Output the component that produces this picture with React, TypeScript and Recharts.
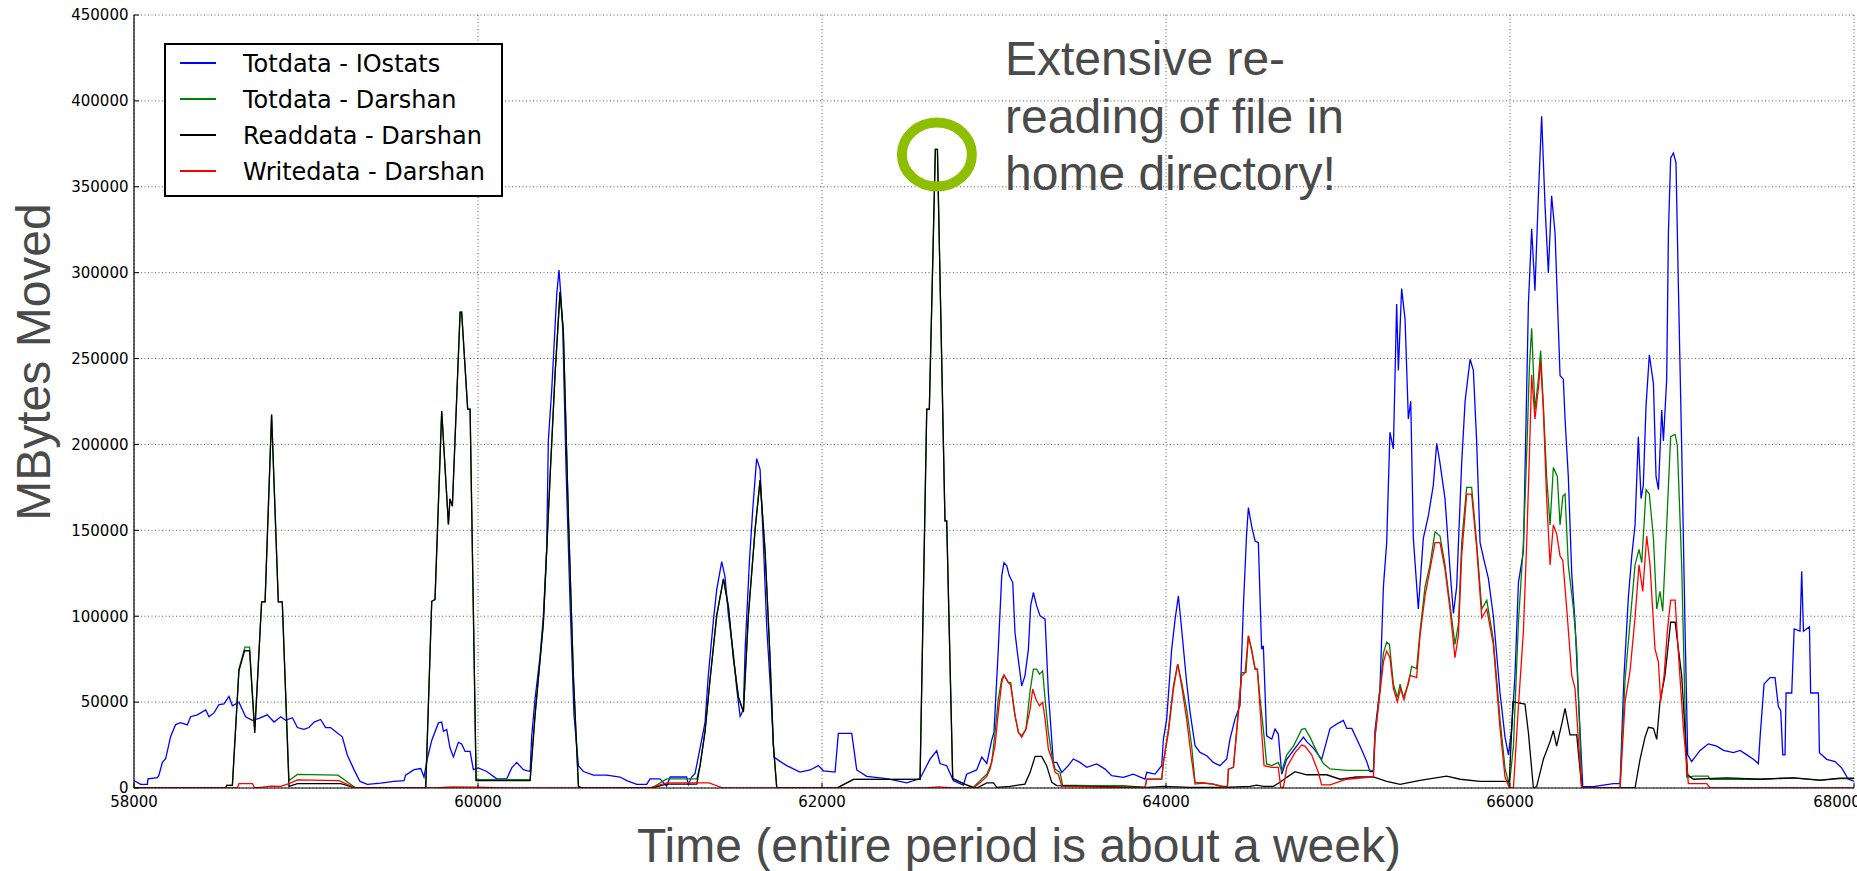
import React from 'react';
import { LineChart, Line, XAxis, YAxis, CartesianGrid, Legend, ReferenceDot } from 'recharts';

type Pt = [number, number];

const xTicks = [58000, 60000, 62000, 64000, 66000, 68000];
const yTicks = [0, 50000, 100000, 150000, 200000, 250000, 300000, 350000, 400000, 450000];

// [time, MBytes] samples per series
const iostatsTotal: Pt[] = [
    [58000, 4300], [58039, 2100], [58078, 2100], [58081, 5300], [58136, 6000], [58145, 7500], [58165, 15000],
    [58184, 17000], [58213, 30000], [58242, 36900], [58271, 38000], [58310, 36700], [58329, 41500], [58368, 42600],
    [58417, 45400], [58436, 41500], [58465, 43700], [58494, 48600], [58523, 49000], [58552, 53300], [58572, 47900],
    [58610, 50000], [58649, 41500], [58688, 39400], [58727, 40500], [58775, 42600], [58814, 38400], [58853, 41500],
    [58882, 39400], [58921, 40900], [58950, 35200], [58988, 34100], [59017, 35200], [59047, 38400], [59085, 39900],
    [59114, 35200], [59143, 35200], [59182, 32000], [59211, 29800], [59240, 19200], [59279, 10700], [59314, 3800],
    [59357, 2100], [59434, 2800], [59512, 3800], [59570, 4300], [59579, 7500], [59628, 10700], [59667, 11300],
    [59686, 6400], [59705, 17000], [59731, 27700], [59770, 37900], [59789, 38400], [59799, 33000], [59818, 34100],
    [59837, 23400], [59857, 18100], [59886, 26600], [59905, 25600], [59925, 21300], [59954, 21300], [59973, 10700],
    [60002, 11700], [60051, 9600], [60109, 5300], [60167, 5300], [60196, 11700], [60225, 14900], [60264, 10700],
    [60303, 9600], [60312, 29800], [60332, 52200], [60361, 76700], [60380, 100000], [60399, 138500], [60409, 202400],
    [60429, 232300], [60458, 287700], [60471, 301500], [60481, 287700], [60493, 266400], [60512, 185400],
    [60535, 108700], [60558, 42600], [60584, 12800], [60613, 9600], [60671, 7500], [60748, 7500], [60826, 6400],
    [60865, 4300], [60923, 2100], [60981, 2100], [61000, 5300], [61058, 5300], [61097, 1100], [61117, 6400],
    [61213, 6400], [61223, 2100], [61242, 6400], [61262, 8500], [61281, 18100], [61320, 38000], [61339, 65500],
    [61369, 98000], [61388, 115500], [61417, 131750], [61436, 123000], [61456, 100500], [61485, 78000],
    [61504, 58000], [61524, 41750], [61543, 45500], [61553, 80500], [61578, 131750], [61597, 161750],
    [61620, 191750], [61640, 185500], [61659, 143000], [61679, 93000], [61702, 55500], [61721, 18000],
    [61756, 15500], [61795, 13000], [61872, 9250], [61931, 10500], [61979, 13000], [62008, 10000], [62076, 9250],
    [62095, 31750], [62173, 31750], [62202, 10500], [62260, 6750], [62376, 5500], [62493, 3000], [62570, 5500],
    [62628, 16750], [62667, 21750], [62686, 14250], [62725, 13000], [62764, 4250], [62822, 1750], [62841, 8000],
    [62899, 10500], [62929, 18000], [62958, 14250], [62987, 28000], [63000, 32400], [63025, 80800], [63045, 123500],
    [63058, 131200], [63074, 129300], [63089, 123500], [63109, 119600], [63122, 90500], [63136, 78900],
    [63161, 59500], [63180, 65300], [63200, 80800], [63213, 106000], [63229, 113800], [63248, 106000],
    [63268, 100200], [63297, 98300], [63316, 55700], [63345, 14900], [63365, 14900], [63394, 9100], [63432, 13000],
    [63461, 16900], [63500, 14900], [63539, 12000], [63597, 14000], [63646, 11000], [63684, 7200], [63752, 6200],
    [63810, 8100], [63878, 5200], [63888, 9100], [63936, 8100], [63975, 13000], [63985, 28500], [64004, 40100],
    [64033, 80800], [64053, 98300], [64072, 111800], [64091, 92400], [64120, 61400], [64140, 44000],
    [64169, 24600], [64198, 20700], [64237, 18800], [64275, 14900], [64314, 13000], [64353, 16900], [64372, 28500],
    [64401, 40100], [64430, 47900], [64450, 106000], [64469, 148600], [64479, 163200], [64498, 152500],
    [64518, 143800], [64537, 142800], [64556, 80800], [64566, 82800], [64585, 30400], [64615, 28500],
    [64634, 34300], [64653, 31400], [64673, 8000], [64702, 16700], [64741, 21900], [64799, 29600], [64818, 27000],
    [64857, 23200], [64905, 16700], [64954, 34700], [65002, 37800], [65031, 39400], [65051, 34700], [65080, 34700],
    [65128, 24400], [65167, 15400], [65186, 9500], [65206, 9500], [65215, 33400], [65244, 57900], [65264, 117100],
    [65283, 142800], [65302, 207100], [65322, 197300], [65341, 281700], [65351, 243100], [65370, 290700],
    [65390, 272700], [65409, 214800], [65423, 225200], [65438, 145400], [65467, 104200], [65496, 145400],
    [65525, 158200], [65554, 176200], [65574, 200700], [65593, 189100], [65622, 168500], [65651, 127400],
    [65671, 101600], [65690, 117100], [65719, 189100], [65739, 225200], [65768, 249600], [65787, 243100],
    [65806, 202000], [65826, 142800], [65849, 132500], [65874, 122200], [65903, 100300], [65942, 55300],
    [65971, 29600], [65991, 19300], [66010, 34700], [66029, 65600], [66049, 119600], [66078, 137700],
    [66107, 281700], [66126, 325500], [66145, 289500], [66165, 344800], [66184, 391100], [66204, 338300],
    [66223, 299800], [66242, 344800], [66262, 322900], [66271, 297200], [66291, 240000], [66310, 238000],
    [66320, 214800], [66339, 181400], [66359, 124800], [66378, 96500], [66398, 52700], [66423, 800], [66485, 800],
    [66601, 2600], [66640, 2600], [66663, 65600], [66688, 110600], [66708, 135100], [66727, 153100],
    [66746, 204500], [66762, 168500], [66775, 176200], [66791, 222600], [66810, 252200], [66834, 235400],
    [66849, 181400], [66863, 173700], [66882, 220000], [66892, 202000], [66911, 238000], [66921, 322900],
    [66934, 366700], [66950, 369700], [66965, 364100], [66979, 292000], [66998, 199400], [67018, 91300],
    [67033, 19300], [67056, 15400], [67105, 21900], [67153, 25700], [67202, 24400], [67241, 21900], [67299, 20600],
    [67338, 21900], [67377, 19300], [67415, 16700], [67444, 14200], [67454, 29600], [67477, 60500], [67512, 64300],
    [67541, 64300], [67560, 47600], [67574, 45000], [67586, 19300], [67599, 19300], [67605, 55300], [67638, 55300],
    [67652, 92600], [67686, 91300], [67696, 126100], [67706, 91300], [67741, 93900], [67748, 55300],
    [67793, 55300], [67799, 20600], [67841, 16700], [67890, 15400], [67929, 11600], [67967, 5100], [68000, 4000],
];

const darshanTotal: Pt[] = [
    [58000, 0], [58533, 0], [58539, 1500], [58572, 1500], [58610, 69300], [58645, 82000], [58672, 82000],
    [58702, 33000], [58742, 108300], [58762, 108300], [58800, 217400], [58839, 108300], [58862, 108300],
    [58901, 4300], [58950, 7900], [59186, 7500], [59289, 0], [59696, 0], [59731, 108700], [59750, 109700],
    [59789, 219500], [59828, 153400], [59837, 168300], [59851, 164100], [59896, 277000], [59905, 277000],
    [59940, 220600], [59954, 220600], [59989, 4800], [60303, 4800], [60332, 42600], [60380, 95900],
    [60419, 181100], [60448, 240800], [60477, 288800], [60496, 266400], [60525, 159800], [60555, 63900],
    [60584, 1000], [60603, 0], [61010, 0], [61097, 5300], [61272, 5300], [61291, 13000], [61320, 33000],
    [61349, 63000], [61388, 100500], [61427, 121750], [61456, 105500], [61485, 75500], [61514, 53000],
    [61543, 44250], [61572, 100500], [61611, 150500], [61640, 179250], [61669, 138000], [61698, 75500],
    [61717, 25500], [61737, 0], [62086, 0], [62183, 5000], [62570, 5000], [62609, 220500], [62624, 220500],
    [62659, 371750], [62671, 371750], [62715, 155500], [62725, 155500], [62760, 5500], [62841, 1750],
    [62880, 500], [62919, 4250], [62958, 8000], [62987, 14900], [63006, 32400], [63025, 51700], [63045, 63400],
    [63058, 65700], [63084, 61400], [63097, 61400], [63122, 42200], [63142, 32400], [63161, 30400],
    [63186, 34300], [63210, 56600], [63229, 69200], [63248, 69200], [63264, 66300], [63283, 68200],
    [63297, 51700], [63316, 32400], [63336, 18800], [63355, 11000], [63384, 9100], [63399, 1700], [63558, 1400],
    [63752, 1400], [63878, 400], [63888, 5200], [63975, 5200], [63985, 14900], [64014, 34300], [64043, 59500],
    [64068, 72100], [64091, 61400], [64120, 45900], [64149, 24600], [64169, 3300], [64217, 2900], [64275, 2300],
    [64334, 1000], [64357, 1000], [64363, 11000], [64392, 12000], [64411, 34300], [64440, 67200], [64465, 67200],
    [64479, 88600], [64498, 80800], [64518, 69200], [64531, 69200], [64547, 51700], [64566, 34300],
    [64585, 14000], [64615, 13000], [64653, 14900], [64673, 10000], [64702, 19300], [64741, 24400],
    [64789, 34200], [64808, 34700], [64837, 29600], [64886, 19300], [64915, 14200], [64954, 11100],
    [65051, 10300], [65206, 10300], [65215, 29600], [65244, 57900], [65264, 78500], [65283, 84900],
    [65299, 83600], [65322, 60500], [65345, 52700], [65361, 60500], [65380, 52700], [65409, 60500],
    [65428, 70800], [65457, 69500], [65477, 91300], [65506, 117100], [65535, 129900], [65564, 149200],
    [65593, 146700], [65622, 129900], [65651, 106800], [65680, 83600], [65700, 95200], [65719, 142800],
    [65748, 175000], [65777, 175000], [65806, 142800], [65836, 104200], [65865, 109400], [65903, 86200],
    [65942, 39900], [65971, 11600], [65996, 1300], [66020, 24400], [66049, 96500], [66078, 142800],
    [66097, 194300], [66113, 245700], [66126, 267600], [66145, 220000], [66165, 238000], [66178, 254700],
    [66194, 222600], [66213, 181400], [66233, 153100], [66252, 186600], [66275, 181400], [66291, 153100],
    [66307, 169800], [66320, 171100], [66339, 129900], [66369, 104200], [66388, 81000], [66417, 0], [66640, 0],
    [66669, 63000], [66698, 96500], [66727, 129900], [66750, 138900], [66766, 131200], [66791, 173700],
    [66810, 171100], [66834, 145400], [66853, 104200], [66872, 114500], [66888, 102900], [66911, 153100],
    [66934, 204500], [66960, 205800], [66973, 199400], [66998, 129900], [67027, 6400], [67047, 6400],
    [67066, 6900], [67153, 6900], [67163, 5100], [67454, 5100], [67648, 5900], [67803, 4400], [67919, 5400],
    [68000, 5400],
];

const darshanRead: Pt[] = [
    [58000, 0], [58533, 0], [58539, 1500], [58572, 1500], [58610, 68200], [58643, 79900], [58672, 79900],
    [58702, 32000], [58742, 108300], [58762, 108300], [58800, 217400], [58839, 108300], [58862, 108300],
    [58901, 1000], [58950, 2600], [59202, 2600], [59289, 0], [59696, 0], [59731, 108700], [59750, 109700],
    [59789, 219500], [59828, 153400], [59837, 168300], [59851, 164100], [59896, 277000], [59905, 277000],
    [59940, 220600], [59954, 220600], [59989, 4300], [60303, 4300], [60332, 42600], [60380, 95900],
    [60419, 181100], [60448, 240800], [60477, 288800], [60496, 266400], [60525, 159800], [60555, 63900],
    [60584, 1000], [60603, 0], [61010, 0], [61097, 2300], [61272, 2300], [61291, 13000], [61320, 33000],
    [61349, 63000], [61388, 100500], [61427, 121750], [61456, 105500], [61485, 75500], [61514, 53000],
    [61543, 44250], [61572, 100500], [61611, 150500], [61640, 179250], [61669, 138000], [61698, 75500],
    [61717, 25500], [61737, 0], [62086, 0], [62183, 5000], [62570, 5000], [62609, 220500], [62624, 220500],
    [62659, 371750], [62671, 371750], [62715, 155500], [62725, 155500], [62760, 5500], [62841, 1750],
    [62870, 500], [62900, 0], [62958, 3000], [62997, 3000], [63016, 400], [63093, 1000], [63180, 2300],
    [63210, 9100], [63239, 18400], [63277, 18400], [63306, 13000], [63336, 3300], [63365, 1400], [63558, 1000],
    [63888, 400], [63985, 1000], [64140, 400], [64334, 400], [64489, 1000], [64527, 1700], [64566, 1000],
    [64624, 1000], [64663, 3300], [64702, 6200], [64750, 9500], [64818, 7700], [64934, 7700], [65012, 5100],
    [65109, 6400], [65206, 6400], [65283, 3900], [65361, 2100], [65477, 4400], [65632, 6900], [65710, 5100],
    [65826, 3900], [65996, 3900], [66017, 50200], [66087, 48900], [66107, 32200], [66136, 0], [66155, 800],
    [66194, 16700], [66233, 27000], [66252, 33400], [66271, 24400], [66301, 37300], [66320, 46300],
    [66349, 30900], [66388, 30900], [66417, 0], [66727, 0], [66756, 16700], [66785, 29600], [66805, 35300],
    [66834, 34700], [66853, 28300], [66872, 50200], [66901, 65600], [66934, 96500], [66960, 96500],
    [66998, 65600], [67033, 7700], [67066, 5100], [67260, 5900], [67454, 5100], [67648, 5900], [67803, 4600],
    [67919, 5700], [68000, 5700],
];

const darshanWrite: Pt[] = [
    [58000, 0], [58601, 0], [58610, 2600], [58688, 2600], [58702, 0], [58736, 400], [58795, 1100], [58853, 900],
    [58901, 2600], [58950, 4700], [59192, 4300], [59289, 0], [59750, 0], [59850, 600], [60000, 500], [60150, 0],
    [60994, 0], [61097, 3000], [61343, 3000], [61424, 0], [62600, 0], [62680, 600], [62760, 0], [62880, 0],
    [62919, 3000], [62958, 6750], [62977, 11000], [63006, 24600], [63025, 44000], [63045, 61400], [63058, 65700],
    [63084, 61400], [63097, 59900], [63122, 42200], [63142, 32400], [63161, 29500], [63186, 34300],
    [63210, 45900], [63225, 57600], [63244, 51700], [63264, 47900], [63283, 49800], [63297, 40100],
    [63316, 22700], [63336, 16900], [63355, 9100], [63374, 8100], [63394, 1000], [63878, 0], [63888, 5200],
    [63975, 5200], [63985, 14900], [64014, 32400], [64043, 57600], [64068, 72100], [64091, 59500],
    [64120, 40100], [64146, 18800], [64169, 2300], [64217, 2900], [64275, 2300], [64334, 400], [64357, 400],
    [64363, 11000], [64392, 12000], [64411, 32400], [64440, 65300], [64460, 67200], [64479, 88600],
    [64498, 79800], [64518, 69200], [64531, 69200], [64547, 45900], [64570, 13000], [64615, 12000],
    [64653, 12000], [64667, 400], [64683, 400], [64702, 12000], [64750, 20600], [64789, 25000], [64808, 24400],
    [64847, 19300], [64886, 9000], [64905, 1800], [64954, 1800], [65051, 5100], [65206, 6400], [65215, 29600],
    [65244, 55300], [65264, 73300], [65283, 79800], [65302, 75900], [65322, 57900], [65345, 50200],
    [65364, 57900], [65384, 51500], [65419, 65600], [65457, 64300], [65477, 88800], [65506, 111900],
    [65535, 127400], [65564, 142800], [65593, 142800], [65622, 127400], [65651, 104200], [65680, 75900],
    [65700, 88800], [65719, 135100], [65748, 171100], [65777, 171100], [65806, 140200], [65836, 99100],
    [65865, 104200], [65903, 83600], [65942, 34700], [65971, 6400], [65996, 0], [66020, 0], [66049, 47600],
    [66078, 91300], [66097, 142800], [66113, 194300], [66126, 240600], [66145, 214800], [66165, 232900],
    [66178, 248300], [66194, 220000], [66213, 168500], [66233, 129900], [66252, 153100], [66271, 148000],
    [66291, 135100], [66307, 132500], [66330, 104200], [66359, 65600], [66378, 57900], [66398, 27000],
    [66417, 0], [66640, 0], [66669, 50200], [66698, 68200], [66727, 99100], [66750, 129900], [66772, 114500],
    [66795, 146700], [66814, 129900], [66843, 81000], [66863, 73300], [66876, 50200], [66896, 65600],
    [66915, 91300], [66934, 109400], [66960, 109400], [66979, 78500], [67008, 34700], [67037, 2600],
    [67144, 2600], [67163, 0], [68000, 0],
];

// the re-read spike that gets circled
const spikeTime = 62668;
const spikeMB = 368800;

const series = [
    { name: 'Totdata - IOstats', color: '#0000ff', points: iostatsTotal },
    { name: 'Totdata - Darshan', color: '#008000', points: darshanTotal },
    { name: 'Readdata - Darshan', color: '#000000', points: darshanRead },
    { name: 'Writedata - Darshan', color: '#ff0000', points: darshanWrite },
];

const toRows = (pts: Pt[]) => pts.map(([t, mb]) => ({ t, mb }));

const tickFont = { fontSize: 15, fontFamily: 'DejaVu Sans' };
const titleFont = 'Liberation Sans, Arial, sans-serif';

// plain centred tick text, so the last label runs off the edge instead of being nudged inward
const BottomTick = (props: any) => (
    <text x={props.x} y={props.y} dy="0.71em" textAnchor="middle" fill="#000" {...tickFont}>
        {props.payload.value}
    </text>
);

const NoTick = () => <g />;

const LegendBox = () => (
    <svg width={340} height={156}>
        <rect x={1} y={1} width={337} height={152} fill="#fff" stroke="#000" strokeWidth={2} />
        {series.map((s, i) => (
            <g key={s.name}>
                <line x1={16} x2={52} y1={20 + i * 36} y2={20 + i * 36} stroke={s.color} strokeWidth={1.8} />
                <text x={79} y={28.5 + i * 36} fontSize={24} fontFamily="DejaVu Sans" fill="#000">
                    {s.name}
                </text>
            </g>
        ))}
    </svg>
);

const App: React.FC = () => (
    <div style={{ position: 'absolute', left: 0, top: 0, width: 1857, height: 871, background: '#fff' }}>
        <LineChart width={1857} height={871} margin={{ top: 15, right: 3, bottom: 0, left: 0 }}>
            <CartesianGrid stroke="#222" strokeWidth={1} strokeDasharray="1 2.5" strokeOpacity={0.75} />
            <XAxis
                dataKey="t"
                type="number"
                domain={[58000, 68000]}
                allowDataOverflow
                ticks={xTicks}
                height={83}
                tick={BottomTick}
                tickSize={-5}
                tickMargin={13}
                tickLine={{ stroke: '#000' }}
                axisLine={{ stroke: '#000', strokeWidth: 1.2 }}
            />
            <XAxis
                xAxisId="top"
                orientation="top"
                dataKey="t"
                type="number"
                domain={[58000, 68000]}
                allowDataOverflow
                ticks={xTicks}
                height={0}
                tick={NoTick}
                tickSize={-5}
                tickLine={{ stroke: '#000' }}
                axisLine={{ stroke: '#000', strokeWidth: 1.2 }}
            />
            <YAxis
                type="number"
                domain={[0, 450000]}
                allowDataOverflow
                ticks={yTicks}
                width={134}
                tick={{ fill: '#000', ...tickFont }}
                tickSize={-5}
                tickMargin={10.5}
                tickLine={{ stroke: '#000' }}
                axisLine={{ stroke: '#000', strokeWidth: 1.2 }}
            />
            <YAxis
                yAxisId="right"
                orientation="right"
                type="number"
                domain={[0, 450000]}
                allowDataOverflow
                ticks={yTicks}
                width={0}
                tick={NoTick}
                tickSize={-5}
                tickLine={{ stroke: '#000' }}
                axisLine={{ stroke: '#000', strokeWidth: 1.2 }}
            />
            {series.map((s) => (
                <Line
                    key={s.name}
                    data={toRows(s.points)}
                    dataKey="mb"
                    name={s.name}
                    type="linear"
                    stroke={s.color}
                    strokeWidth={1.3}
                    dot={false}
                    activeDot={false}
                    isAnimationActive={false}
                />
            ))}
            <ReferenceDot
                x={spikeTime}
                y={spikeMB}
                r={0}
                shape={(p: any) => (
                    <ellipse cx={p.cx} cy={p.cy} rx={35} ry={32} fill="none" stroke="#8dbe00" strokeWidth={10} />
                )}
            />
            <Legend
                layout="horizontal"
                verticalAlign="middle"
                align="center"
                content={LegendBox}
                wrapperStyle={{ left: 164, top: 43, width: 340, height: 156 }}
            />
        </LineChart>
        <svg
            width={1857}
            height={871}
            style={{ position: 'absolute', left: 0, top: 0, pointerEvents: 'none' }}
        >
            <text
                transform="translate(50,362) rotate(-90)"
                textAnchor="middle"
                fontSize={48}
                fontFamily={titleFont}
                fill="#4a4a4a"
            >
                MBytes Moved
            </text>
            <text x={1019} y={862} textAnchor="middle" fontSize={48} fontFamily={titleFont} fill="#4a4a4a">
                Time (entire period is about a week)
            </text>
            <text fontSize={48} fontFamily={titleFont} fill="#4a4a4a">
                <tspan x={1005} y={75}>Extensive re-</tspan>
                <tspan x={1005} y={132.5}>reading of file in</tspan>
                <tspan x={1005} y={190}>home directory!</tspan>
            </text>
        </svg>
    </div>
);

export default App;
